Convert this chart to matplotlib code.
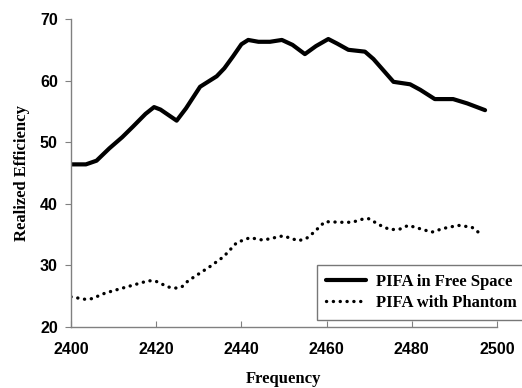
import matplotlib
matplotlib.use("Agg")
import matplotlib.pyplot as plt

free_freq = [2400, 2403.5, 2406, 2409, 2412, 2414.5, 2417.5, 2419.5, 2421, 2424.8, 2427,
             2430.3, 2434.2, 2436, 2438, 2440, 2441.6, 2444, 2446.7, 2449.5, 2452, 2454.9,
             2457.5, 2460.4, 2462.5, 2465.1, 2469, 2471, 2475.7, 2479.6, 2482, 2485.4,
             2489.7, 2493, 2497.2]
free_eff = [46.4, 46.4, 47.0, 49.0, 50.8, 52.5, 54.6, 55.7, 55.3, 53.5, 55.5,
            59.0, 60.7, 62.0, 63.9, 65.9, 66.6, 66.3, 66.3, 66.6, 65.8, 64.3,
            65.6, 66.75, 66.0, 65.0, 64.7, 63.5, 59.8, 59.4, 58.5, 57.0,
            57.0, 56.3, 55.2]

ph_freq = [2400, 2403.3, 2404.9, 2408, 2411.5, 2414.6, 2418.1, 2419.7, 2422.8, 2424.4,
           2426, 2427.5, 2429.5, 2432.6, 2435.8, 2437.3, 2438.9, 2442, 2445.1, 2449.8,
           2453.4, 2455.3, 2456.9, 2459.6, 2463.5, 2466, 2468.4, 2469.8, 2472.9, 2474.9,
           2477.2, 2479.2, 2482.7, 2484.7, 2487.4, 2490.9, 2494.1, 2495.6]
ph_eff = [24.9, 24.5, 24.6, 25.5, 26.2, 26.8, 27.5, 27.5, 26.5, 26.3,
          26.5, 27.5, 28.4, 29.8, 31.4, 32.5, 33.7, 34.5, 34.1, 34.8,
          34.0, 34.4, 35.3, 37.1, 37.0, 37.0, 37.5, 37.6, 36.4, 35.8,
          35.9, 36.5, 35.8, 35.4, 36.0, 36.5, 36.2, 35.4]

x_ticks = [2400, 2420, 2440, 2460, 2480, 2500]
y_ticks = [20, 30, 40, 50, 60, 70]

fig = plt.figure(figsize=(5.22, 3.88), dpi=100)
ax = fig.add_axes([71/522, 1-327/388, (497-71)/522, (327-19)/388])

ax.plot(free_freq, free_eff, color='black', lw=3.0, solid_capstyle='round',
        solid_joinstyle='round', label='PIFA in Free Space')
ax.plot(ph_freq, ph_eff, color='black', lw=2.4, linestyle=(0, (0.05, 2.0)),
        dash_capstyle='round', label='PIFA with Phantom')

ax.set_xlim(2400, 2500)
ax.set_ylim(20, 70)
ax.set_xticks(x_ticks)
ax.set_yticks(y_ticks)
for s in ['top', 'right']:
    ax.spines[s].set_visible(False)
for s in ['left', 'bottom']:
    ax.spines[s].set_color('#808080')
    ax.spines[s].set_linewidth(1.0)
ax.tick_params(axis='x', direction='in', length=4, color='#808080', pad=11)
ax.tick_params(axis='y', direction='out', length=4.5, color='#808080', pad=5)
for lab in ax.get_xticklabels() + ax.get_yticklabels():
    lab.set_fontfamily('Liberation Sans')
    lab.set_fontweight('bold')
    lab.set_fontsize(11.5)

ax.set_xlabel('Frequency', fontfamily='Liberation Serif', fontweight='bold',
              fontsize=12, labelpad=10)
ax.set_ylabel('Realized Efficiency', fontfamily='Liberation Serif', fontweight='bold',
              fontsize=12, labelpad=7)

leg = ax.legend(loc='lower left', bbox_to_anchor=(316.5/522, 1-320/388),
                bbox_transform=fig.transFigure, frameon=True, fancybox=False,
                prop={'family': 'Liberation Serif', 'weight': 'bold', 'size': 12},
                handlelength=2.4, borderpad=0.55, labelspacing=0.3, handletextpad=0.6,
                borderaxespad=0)
leg.get_frame().set_edgecolor('#555555')
leg.get_frame().set_linewidth(1.0)
leg.set_clip_on(False)

fig.savefig('out.png', dpi=100)
